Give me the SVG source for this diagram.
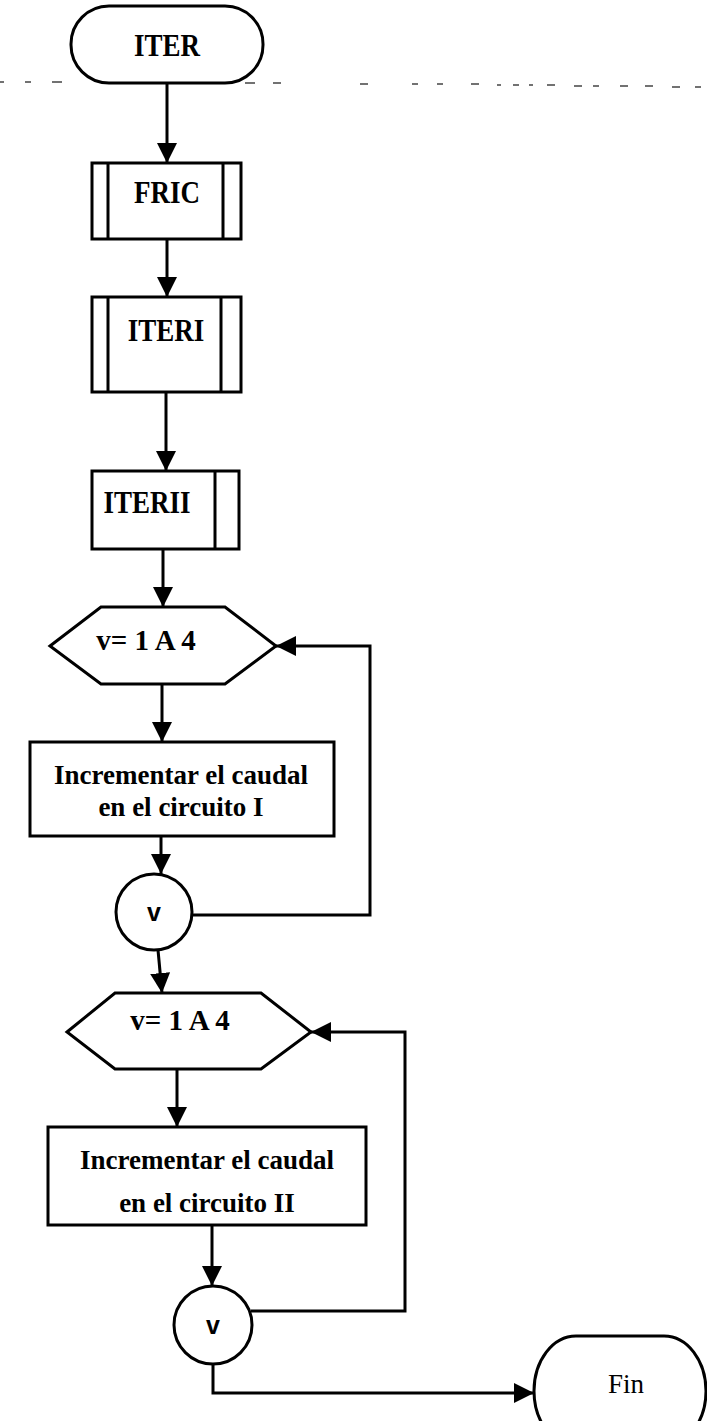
<svg xmlns="http://www.w3.org/2000/svg" width="707" height="1421" viewBox="0 0 707 1421">
<style>
.s{fill:#fff;stroke:#000;stroke-width:3}
.c{fill:none;stroke:#000;stroke-width:3}
.t{font-family:"Liberation Serif","Times New Roman",serif;font-weight:bold;font-size:27px;text-anchor:middle;dominant-baseline:central;fill:#000}
.h{font-size:29px}
.n{font-weight:normal}
.v{font-family:"Liberation Sans",Arial,sans-serif;font-weight:bold;font-size:25px;text-anchor:middle;dominant-baseline:central}
.d{fill:none;stroke:#444;stroke-width:1.5}
</style>
<defs>
<marker id="a" markerUnits="userSpaceOnUse" markerWidth="20" markerHeight="20" viewBox="0 0 20 20" refX="20" refY="10" orient="auto">
<path d="M0,0 L20,10 L0,20 z" fill="#000"/>
</marker>
</defs>
<path class="d" d="M0,82 h4 M25,82 h6 M52,82 h10 M245,83 h10 M273,83 h8 M360,84 h8 M412,84 h6 M437,84 h6 M471,84 h8 M497,85 h4 M513,85 h6 M529,85 h4 M547,85 h8 M574,86 h8 M593,86 h6 M620,86 h8 M645,86 h8 M672,87 h8 M695,87 h6"/>
<g id="connectors">
<path class="c" d="M167,83 V163" marker-end="url(#a)"/>
<path class="c" d="M167,239 V297" marker-end="url(#a)"/>
<path class="c" d="M166,392 V471" marker-end="url(#a)"/>
<path class="c" d="M163,549 V607" marker-end="url(#a)"/>
<path class="c" d="M162,684 V742" marker-end="url(#a)"/>
<path class="c" d="M161,836 V874" marker-end="url(#a)"/>
<path class="c" d="M191,915 H370 V646 H276" marker-end="url(#a)"/>
<path class="c" d="M158,950 L162,993" marker-end="url(#a)"/>
<path class="c" d="M177,1069 V1127" marker-end="url(#a)"/>
<path class="c" d="M212,1225 V1286" marker-end="url(#a)"/>
<path class="c" d="M251,1311 H405 V1032 H311" marker-end="url(#a)"/>
<path class="c" d="M213,1364 V1393 H534" marker-end="url(#a)"/>
</g>
<g id="iter">
<rect class="s" x="71" y="6" width="192" height="77" rx="38" ry="38"/>
<text class="t" transform="translate(167,45) scale(1,1.15)">ITER</text>
</g>
<g id="fric">
<rect class="s" x="92" y="163" width="149" height="76"/>
<path class="c" d="M108,163 V239 M223,163 V239"/>
<text class="t" transform="translate(167,192) scale(1,1.15)">FRIC</text>
</g>
<g id="iteri">
<rect class="s" x="92" y="297" width="149" height="95"/>
<path class="c" d="M108,297 V392 M221,297 V392"/>
<text class="t" transform="translate(166,330) scale(1,1.15)">ITERI</text>
</g>
<g id="iterii">
<rect class="s" x="92" y="471" width="147" height="78"/>
<path class="c" d="M215,471 V549"/>
<text class="t" transform="translate(147,502) scale(1,1.15)">ITERII</text>
</g>
<g id="loop1">
<polygon class="s" points="50,646 101,607 225,607 276,646 225,684 101,684"/>
<text class="t h" x="146" y="640">v= 1 A 4</text>
</g>
<g id="inc1">
<rect class="s" x="30" y="742" width="304" height="94"/>
<text class="t" x="181" y="775">Incrementar el caudal</text>
<text class="t" x="181" y="807">en el circuito I</text>
</g>
<g id="v1">
<circle class="s" cx="154" cy="912" r="38"/>
<text class="v" x="154" y="912">v</text>
</g>
<g id="loop2">
<polygon class="s" points="67,1032 115,993 261,993 311,1032 261,1069 115,1069"/>
<text class="t h" x="180" y="1020">v= 1 A 4</text>
</g>
<g id="inc2">
<rect class="s" x="48" y="1127" width="318" height="98"/>
<text class="t" x="207" y="1160">Incrementar el caudal</text>
<text class="t" x="207" y="1203">en el circuito II</text>
</g>
<g id="v2">
<circle class="s" cx="213" cy="1325" r="39"/>
<text class="v" x="213" y="1325">v</text>
</g>
<g id="fin">
<rect class="s" x="534" y="1336" width="172" height="110" rx="42" ry="55"/>
<text class="t n" x="626" y="1384">Fin</text>
</g>
</svg>
